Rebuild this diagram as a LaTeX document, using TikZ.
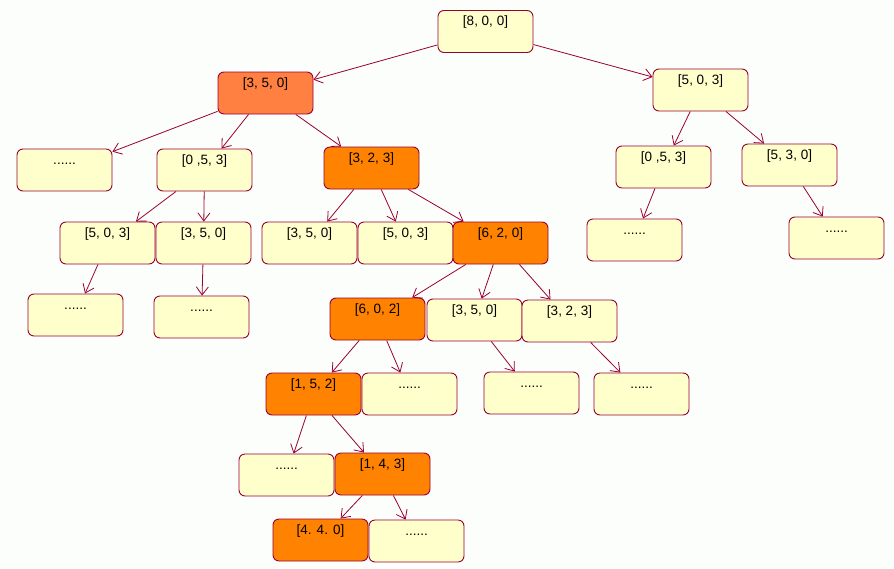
\documentclass[tikz,border=0pt]{standalone}
\usepackage{fontspec}
\setmainfont{Liberation Sans}
\usetikzlibrary{arrows.meta}
\definecolor{boxfill}{RGB}{255,255,204}
\definecolor{boxline}{RGB}{153,0,51}
\definecolor{coral}{RGB}{255,128,64}
\definecolor{orng}{RGB}{255,130,0}
\definecolor{bg}{RGB}{252,254,252}
\tikzset{
  st/.style={draw=boxline, fill=boxfill, line width=0.9pt, rounded corners=6pt,
    minimum width=95pt, minimum height=42pt, inner xsep=0pt, inner ysep=3pt,
    text height=12pt, text depth=24pt, font=\fontsize{13.5}{15}\selectfont},
  hot/.style={st, fill=orng},
  hotb/.style={st, fill=coral},
  edge/.style={draw=boxline, line width=0.8pt, -{Straight Barb[length=8pt,width=12pt,line width=0.8pt]}}
}
\begin{document}
\begin{tikzpicture}[x=1pt,y=-1pt]
\fill[bg] (0,0) rectangle (894,568);
\useasboundingbox (0,0) rectangle (894,568);
\def\dd{......}
\node[st] (root) at (485.5,31.5) {[8, 0, 0]};
\node[hotb] (a) at (265.5,93) {[3, 5, 0]};
\node[st] (b) at (700.5,90) {[5, 0, 3]};
\node[st] (a1) at (64.5,170) {\dd};
\node[st] (a2) at (204.5,170) {[0 ,5, 3]};
\node[hot] (a3) at (371.5,168) {[3, 2, 3]};
\node[st] (b1) at (663.5,167) {[0 ,5, 3]};
\node[st] (b2) at (789.5,165) {[5, 3, 0]};
\node[st] (a21) at (107.5,243) {[5, 0, 3]};
\node[st] (a22) at (203.5,243) {[3, 5, 0]};
\node[st] (a31) at (309.5,243) {[3, 5, 0]};
\node[st] (a32) at (405.5,243) {[5, 0, 3]};
\node[hot] (a33) at (500.5,243) {[6, 2, 0]};
\node[st] (b11) at (634.5,240) {\dd};
\node[st] (b21) at (836.5,238) {\dd};
\node[st] (a211) at (75.5,315) {\dd};
\node[st] (a221) at (201.5,317) {\dd};
\node[hot] (c1) at (377.5,319) {[6, 0, 2]};
\node[st] (c2) at (474.5,320) {[3, 5, 0]};
\node[st] (c3) at (569.5,321) {[3, 2, 3]};
\node[hot] (d1) at (313.5,394) {[1, 5, 2]};
\node[st] (d2) at (409.5,394) {\dd};
\node[st] (c21) at (531.5,393) {\dd};
\node[st] (c31) at (641.5,394) {\dd};
\node[st] (e1) at (286.5,475) {\dd};
\node[hot] (e2) at (382.5,474) {[1, 4, 3]};
\node[hot] (f1) at (320.5,540) {[4. 4. 0]};
\node[st] (f2) at (416.5,541) {\dd};
\foreach \u/\v in {root/a, root/b, a/a1, a/a2, a/a3, b/b1, b/b2,
  a2/a21, a2/a22, a3/a31, a3/a32, a3/a33, b1/b11, b2/b21,
  a21/a211, a22/a221, a33/c1, a33/c2, a33/c3,
  c1/d1, c1/d2, c2/c21, c3/c31, d1/e1, d1/e2, e2/f1, e2/f2}
  \draw[edge] (\u) -- (\v);
\end{tikzpicture}
\end{document}
